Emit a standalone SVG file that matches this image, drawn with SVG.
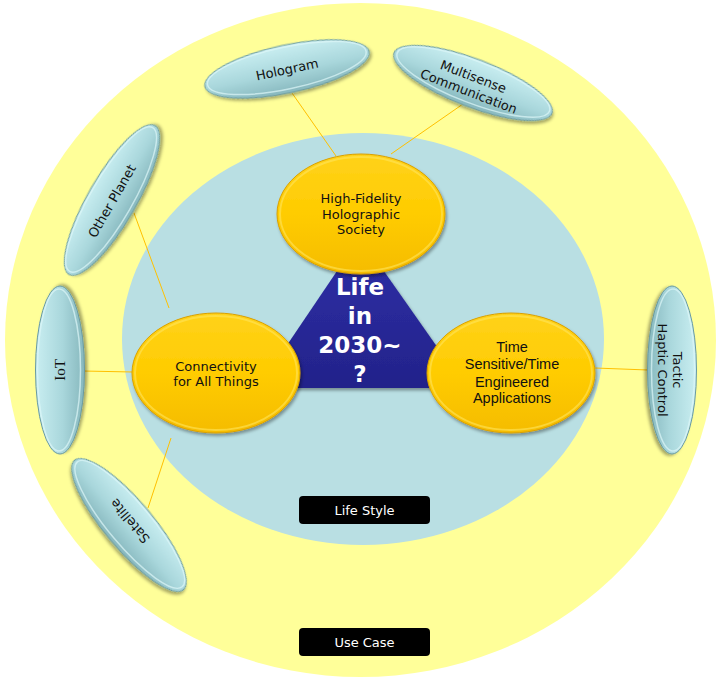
<svg xmlns="http://www.w3.org/2000/svg" width="721" height="681" viewBox="0 0 721 681">
<defs>
<style>
.t{font-family:"DejaVu Sans","Verdana",sans-serif;font-size:13px;fill:#111;text-anchor:middle}
.ta{font-family:"Liberation Sans",Arial,sans-serif;font-size:14.5px;fill:#111;text-anchor:middle}
.ts{font-family:"Liberation Serif","Times New Roman",serif;font-size:15px;fill:#111;text-anchor:middle}
.tri{font-family:"DejaVu Sans","Verdana",sans-serif;font-size:23px;font-weight:bold;fill:#fff;text-anchor:middle}
.lbl{font-family:"DejaVu Sans","Verdana",sans-serif;font-size:13px;fill:#fff;text-anchor:middle}
.box{fill:#000}
.con{stroke:#FFC000;stroke-width:1;fill:none}
.big{fill:url(#gy);stroke:#D9A000;stroke-width:1;filter:url(#sh)}
.bigHi{fill:none;stroke:#FFE45C;stroke-width:2;opacity:.6}
.sm{fill:url(#gb);stroke:#6A9AA0;stroke-width:1;filter:url(#sh)}
.smHi{fill:none;stroke:#DDF6F8;stroke-width:1.5;opacity:.7}
</style>
<linearGradient id="gy" x1="0" y1="0" x2="0" y2="1">
<stop offset="0" stop-color="#FFD21A"/>
<stop offset="0.5" stop-color="#FFCC00"/>
<stop offset="1" stop-color="#F5BC00"/>
</linearGradient>
<linearGradient id="gb" x1="0" y1="0" x2="0" y2="1">
<stop offset="0" stop-color="#C9EEF1"/>
<stop offset="0.55" stop-color="#A9D7DC"/>
<stop offset="1" stop-color="#86B7BD"/>
</linearGradient>
<linearGradient id="gt" x1="0" y1="0" x2="0" y2="1">
<stop offset="0" stop-color="#3030A8"/>
<stop offset="1" stop-color="#22228A"/>
</linearGradient>
<filter id="sh" x="-20%" y="-20%" width="140%" height="150%">
<feDropShadow dx="1.5" dy="2.5" stdDeviation="1.8" flood-color="#000" flood-opacity="0.35"/>
</filter>
</defs>

<g id="bg-usecase">
<ellipse cx="360.5" cy="340" rx="355.5" ry="337" fill="#FFFF99"/>
</g>
<g id="bg-lifestyle">
<ellipse cx="363" cy="339" rx="241" ry="206" fill="#B9DFE3"/>
</g>

<g id="connectors">
<line class="con" x1="292" y1="93" x2="336" y2="156"/>
<line class="con" x1="463" y1="104" x2="391" y2="154"/>
<line class="con" x1="134" y1="213" x2="169" y2="308"/>
<line class="con" x1="83" y1="371" x2="133" y2="372"/>
<line class="con" x1="148" y1="508" x2="171" y2="438"/>
<line class="con" x1="595" y1="368" x2="648" y2="370"/>
</g>

<g id="n-life2030">
<polygon points="360,237 258,388 466,388" fill="url(#gt)" filter="url(#sh)"/>
<text class="tri" x="360" y="295">Life</text>
<text class="tri" x="360" y="324">in</text>
<text class="tri" x="360" y="353">2030~</text>
<text class="tri" x="360" y="382">?</text>
</g>

<g id="n-highfidelity">
<ellipse class="big" cx="361" cy="214" rx="84" ry="60"/>
<ellipse class="bigHi" cx="361" cy="214" rx="81" ry="57"/>
<text class="t" x="361" y="203">High-Fidelity</text>
<text class="t" x="361" y="219">Holographic</text>
<text class="t" x="361" y="234">Society</text>
</g>

<g id="n-connectivity">
<ellipse class="big" cx="216" cy="373" rx="84" ry="60"/>
<ellipse class="bigHi" cx="216" cy="373" rx="81" ry="57"/>
<text class="t" x="216" y="371">Connectivity</text>
<text class="t" x="216" y="386">for All Things</text>
</g>

<g id="n-timesensitive">
<ellipse class="big" cx="511" cy="373" rx="84" ry="60"/>
<ellipse class="bigHi" cx="511" cy="373" rx="81" ry="57"/>
<text class="ta" x="512" y="352">Time</text>
<text class="ta" x="512" y="369">Sensitive/Time</text>
<text class="ta" x="512" y="387">Engineered</text>
<text class="ta" x="512" y="403">Applications</text>
</g>

<g id="n-hologram">
<g transform="translate(287,69) rotate(-12)">
<ellipse class="sm" cx="0" cy="0" rx="84" ry="24"/>
<ellipse class="smHi" cx="0" cy="-1" rx="81" ry="21"/>
<text class="t" x="0" y="5">Hologram</text>
</g>
</g>

<g id="n-multisense">
<g transform="translate(473,83) rotate(21)">
<ellipse class="sm" cx="0" cy="0" rx="84.5" ry="24"/>
<ellipse class="smHi" cx="0" cy="-1" rx="81.5" ry="21"/>
<text class="t" x="-2" y="-1.5">Multisense</text>
<text class="t" x="-1" y="14">Communication</text>
</g>
</g>

<g id="n-otherplanet">
<g transform="translate(112,200) rotate(-60)">
<ellipse class="sm" cx="0" cy="0" rx="86" ry="24"/>
<ellipse class="smHi" cx="0" cy="-1" rx="83" ry="21"/>
<text class="t" x="-1" y="5">Other Planet</text>
</g>
</g>

<g id="n-iot">
<g transform="translate(60,370) rotate(-90)">
<ellipse class="sm" cx="0" cy="0" rx="84" ry="24.5"/>
<ellipse class="smHi" cx="0" cy="-1" rx="81" ry="21.5"/>
<text class="ts" x="0" y="5">IoT</text>
</g>
</g>

<g id="n-satellite">
<g transform="translate(129,525) rotate(50)">
<ellipse class="sm" cx="0" cy="0" rx="84.5" ry="24"/>
<ellipse class="smHi" cx="0" cy="-1" rx="81.5" ry="21"/>
</g>
<g transform="translate(130,521) rotate(230)">
<text class="t" x="0" y="4.5">Satellite</text>
</g>
</g>

<g id="n-tactic">
<g transform="translate(672,370) rotate(90)">
<ellipse class="sm" cx="0" cy="0" rx="84" ry="24.5"/>
<ellipse class="smHi" cx="0" cy="-1" rx="81" ry="21.5"/>
<text class="t" x="0" y="-1">Tactic</text>
<text class="t" x="0" y="14">Haptic Control</text>
</g>
</g>

<g id="lbl-lifestyle">
<rect class="box" x="299" y="496" width="131" height="28" rx="4"/>
<text class="lbl" x="364.5" y="514.5">Life Style</text>
</g>
<g id="lbl-usecase">
<rect class="box" x="299" y="628" width="131" height="28" rx="4"/>
<text class="lbl" x="364.5" y="646.5">Use Case</text>
</g>
</svg>
